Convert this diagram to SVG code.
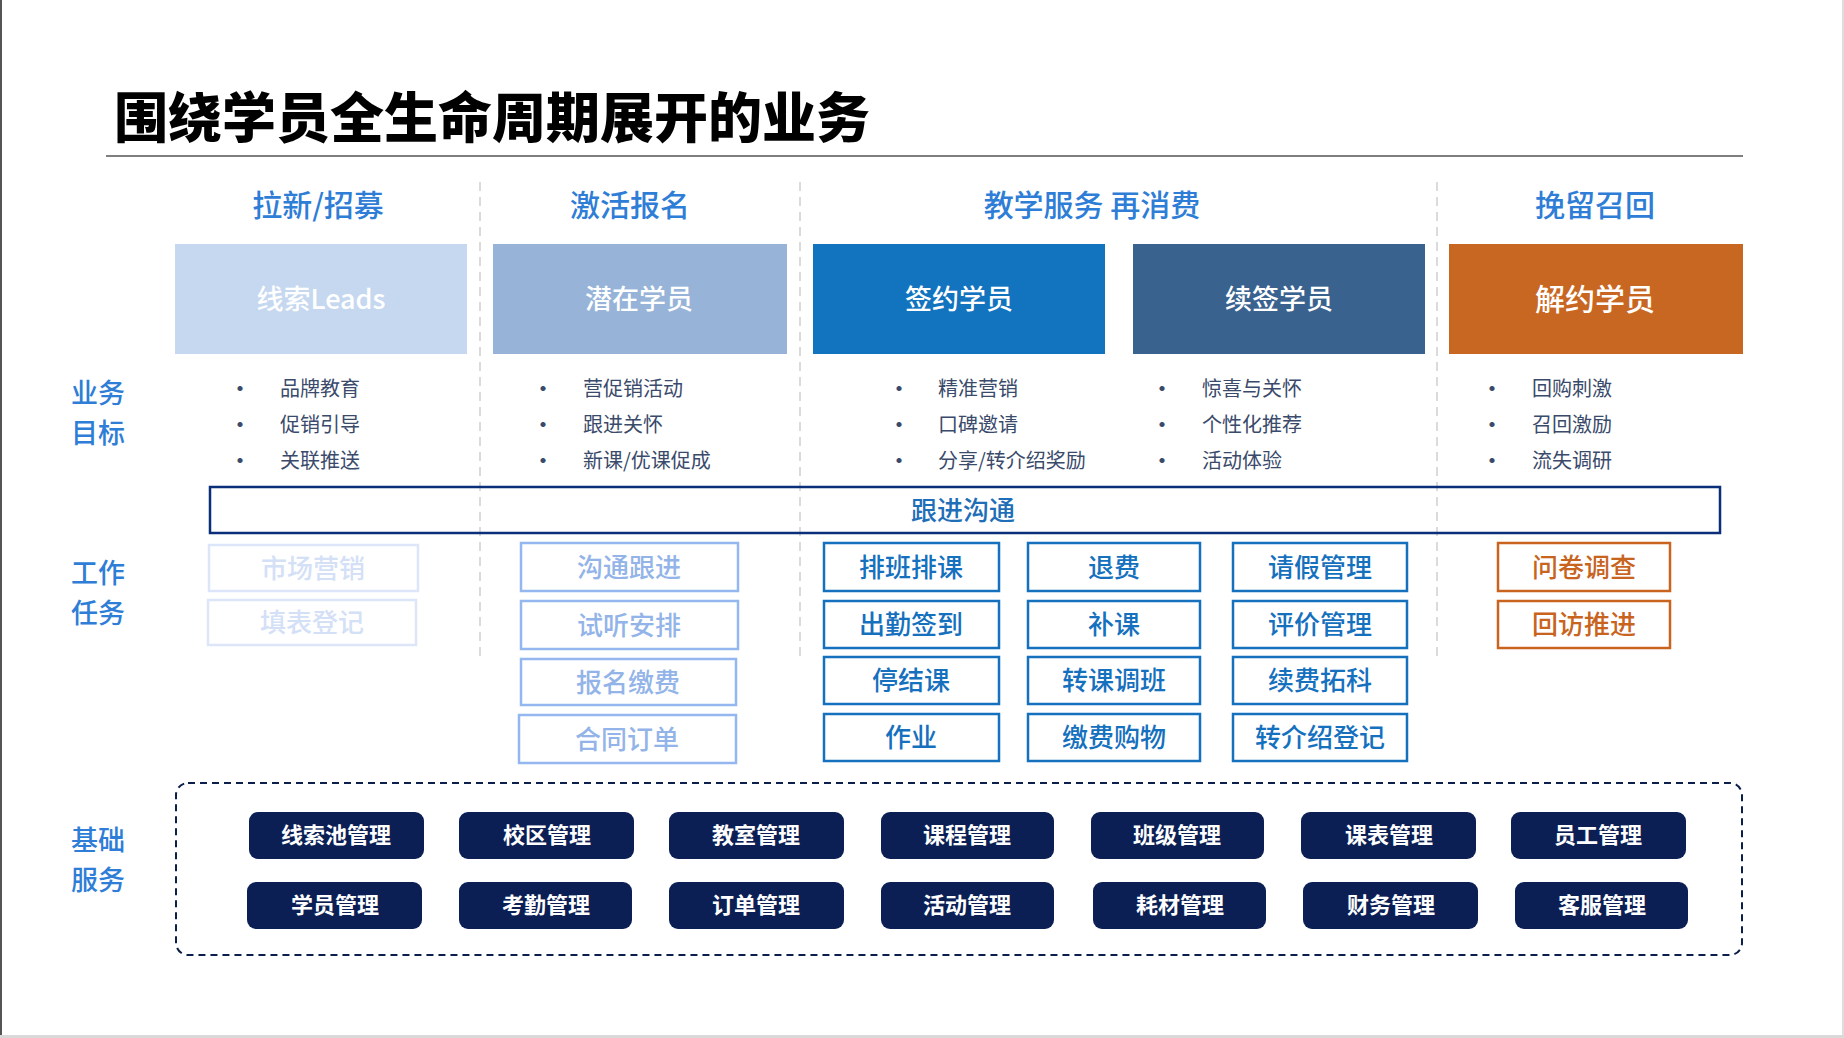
<svg xmlns="http://www.w3.org/2000/svg" width="1844" height="1038" viewBox="0 0 1844 1038">
<style>
text{font-family:"Noto Sans CJK SC","Noto Sans",sans-serif;dominant-baseline:central}
.title{font-size:54px;font-weight:900;fill:#000}
.hdr{font-size:30px;font-weight:500;fill:#2E7DD6;text-anchor:middle}
.side{font-size:27px;font-weight:500;fill:#2E7DD6;text-anchor:middle}
.stage{font-size:27px;font-weight:500;fill:#fff;text-anchor:middle}
.bul{font-size:20px;fill:#3A4A6B}
.dot{font-size:20px;font-weight:700;fill:#3A4A6B;text-anchor:middle}
.task{font-size:26px;font-weight:500;text-anchor:middle}
.tb{fill:#fff;stroke-width:2.5}
.t1{stroke:#DCE6F8}.t1t{fill:#D3E0F6}
.t2{stroke:#93B7EE}.t2t{fill:#93B4E8}
.t3{stroke:#1570BE}.t3t{fill:#1570BE}
.t4{stroke:#C8641E}.t4t{fill:#C8641E}
.base rect{fill:#0B1F55;rx:9px}
.base text{font-size:22px;font-weight:700;fill:#fff;text-anchor:middle}
.sep{stroke:#D0D0D0;stroke-width:1.5;stroke-dasharray:9 6;fill:none}
</style>
<rect x="0" y="0" width="1844" height="1038" fill="#fff"/>
<rect x="0" y="0" width="2" height="1038" fill="#555"/>
<rect x="1842" y="0" width="2" height="1038" fill="#DDD"/>
<rect x="0" y="1035" width="1844" height="3" fill="#D9D9D9"/>

<text class="title" x="114" y="114">围绕学员全生命周期展开的业务</text>
<line x1="106" y1="156" x2="1743" y2="156" stroke="#7F7F7F" stroke-width="2"/>

<g id="separators">
<line class="sep" x1="480" y1="182" x2="480" y2="656"/>
<line class="sep" x1="800" y1="182" x2="800" y2="656"/>
<line class="sep" x1="1437" y1="182" x2="1437" y2="656"/>
</g>

<g id="headers">
<text class="hdr" x="318" y="203">拉新/招募</text>
<text class="hdr" x="630" y="203">激活报名</text>
<text class="hdr" x="1092" y="203">教学服务 再消费</text>
<text class="hdr" x="1595" y="203">挽留召回</text>
</g>

<g id="side-labels">
<text class="side" x="98" y="391">业务</text>
<text class="side" x="98" y="431">目标</text>
<text class="side" x="98" y="571">工作</text>
<text class="side" x="98" y="611">任务</text>
<text class="side" x="98" y="838">基础</text>
<text class="side" x="98" y="878">服务</text>
</g>

<g id="stage-leads"><rect x="175" y="244" width="292" height="110" fill="#C5D8EF"/><text class="stage" x="321" y="297">线索Leads</text></g>
<g id="stage-potential"><rect x="493" y="244" width="294" height="110" fill="#97B4D8"/><text class="stage" x="639" y="297">潜在学员</text></g>
<g id="stage-signed"><rect x="813" y="244" width="292" height="110" fill="#1273BF"/><text class="stage" x="959" y="297">签约学员</text></g>
<g id="stage-renewed"><rect x="1133" y="244" width="292" height="110" fill="#3A628F"/><text class="stage" x="1279" y="297">续签学员</text></g>
<g id="stage-cancelled"><rect x="1449" y="244" width="294" height="110" fill="#C86721"/><text class="stage" x="1595" y="297" style="font-size:30px">解约学员</text></g>

<g id="goals">
<text class="dot" x="240" y="387">•</text><text class="bul" x="280" y="387">品牌教育</text>
<text class="dot" x="240" y="423">•</text><text class="bul" x="280" y="423">促销引导</text>
<text class="dot" x="240" y="459">•</text><text class="bul" x="280" y="459">关联推送</text>
<text class="dot" x="543" y="387">•</text><text class="bul" x="583" y="387">营促销活动</text>
<text class="dot" x="543" y="423">•</text><text class="bul" x="583" y="423">跟进关怀</text>
<text class="dot" x="543" y="459">•</text><text class="bul" x="583" y="459">新课/优课促成</text>
<text class="dot" x="899" y="387">•</text><text class="bul" x="938" y="387">精准营销</text>
<text class="dot" x="899" y="423">•</text><text class="bul" x="938" y="423">口碑邀请</text>
<text class="dot" x="899" y="459">•</text><text class="bul" x="938" y="459">分享/转介绍奖励</text>
<text class="dot" x="1162" y="387">•</text><text class="bul" x="1202" y="387">惊喜与关怀</text>
<text class="dot" x="1162" y="423">•</text><text class="bul" x="1202" y="423">个性化推荐</text>
<text class="dot" x="1162" y="459">•</text><text class="bul" x="1202" y="459">活动体验</text>
<text class="dot" x="1492" y="387">•</text><text class="bul" x="1532" y="387">回购刺激</text>
<text class="dot" x="1492" y="423">•</text><text class="bul" x="1532" y="423">召回激励</text>
<text class="dot" x="1492" y="459">•</text><text class="bul" x="1532" y="459">流失调研</text>
</g>

<g id="follow-up">
<rect x="210" y="487" width="1510" height="46" fill="none" stroke="#0B2E7A" stroke-width="2.5"/>
<text class="task" x="963" y="508" style="fill:#1F6FB8">跟进沟通</text>
</g>

<g id="tasks-leads">
<g id="task-market"><rect class="tb t1" x="209" y="545" width="209" height="46"/><text class="task t1t" x="313" y="566">市场营销</text></g>
<g id="task-form"><rect class="tb t1" x="208" y="600" width="208" height="45"/><text class="task t1t" x="312" y="620">填表登记</text></g>
</g>
<g id="tasks-potential">
<g id="task-comm"><rect class="tb t2" x="521" y="543" width="217" height="48"/><text class="task t2t" x="629" y="565">沟通跟进</text></g>
<g id="task-trial"><rect class="tb t2" x="521" y="601" width="217" height="48"/><text class="task t2t" x="629" y="623">试听安排</text></g>
<g id="task-pay"><rect class="tb t2" x="521" y="659" width="215" height="46"/><text class="task t2t" x="628" y="680">报名缴费</text></g>
<g id="task-contract"><rect class="tb t2" x="519" y="715" width="217" height="48"/><text class="task t2t" x="627" y="737">合同订单</text></g>
</g>
<g id="tasks-service">
<g id="task-schedule"><rect class="tb t3" x="824" y="543" width="175" height="48"/><text class="task t3t" x="911" y="565">排班排课</text></g>
<g id="task-refund"><rect class="tb t3" x="1028" y="543" width="172" height="48"/><text class="task t3t" x="1114" y="565">退费</text></g>
<g id="task-leave"><rect class="tb t3" x="1233" y="543" width="174" height="48"/><text class="task t3t" x="1320" y="565">请假管理</text></g>
<g id="task-attend"><rect class="tb t3" x="824" y="601" width="175" height="47"/><text class="task t3t" x="911" y="622">出勤签到</text></g>
<g id="task-makeup"><rect class="tb t3" x="1028" y="601" width="172" height="47"/><text class="task t3t" x="1114" y="622">补课</text></g>
<g id="task-eval"><rect class="tb t3" x="1233" y="601" width="174" height="47"/><text class="task t3t" x="1320" y="622">评价管理</text></g>
<g id="task-pause"><rect class="tb t3" x="824" y="657" width="175" height="47"/><text class="task t3t" x="911" y="678">停结课</text></g>
<g id="task-transfer"><rect class="tb t3" x="1028" y="657" width="172" height="47"/><text class="task t3t" x="1114" y="678">转课调班</text></g>
<g id="task-renew"><rect class="tb t3" x="1233" y="657" width="174" height="47"/><text class="task t3t" x="1320" y="678">续费拓科</text></g>
<g id="task-homework"><rect class="tb t3" x="824" y="714" width="175" height="47"/><text class="task t3t" x="911" y="735">作业</text></g>
<g id="task-shop"><rect class="tb t3" x="1028" y="714" width="172" height="47"/><text class="task t3t" x="1114" y="735">缴费购物</text></g>
<g id="task-referral"><rect class="tb t3" x="1233" y="714" width="174" height="47"/><text class="task t3t" x="1320" y="735">转介绍登记</text></g>
</g>
<g id="tasks-retain">
<g id="task-survey"><rect class="tb t4" x="1498" y="543" width="172" height="48"/><text class="task t4t" x="1584" y="565">问卷调查</text></g>
<g id="task-visit"><rect class="tb t4" x="1498" y="601" width="172" height="47"/><text class="task t4t" x="1584" y="622">回访推进</text></g>
</g>

<g id="foundation">
<rect x="176" y="783" width="1566" height="172" rx="12" fill="none" stroke="#0B1F4A" stroke-width="2" stroke-dasharray="7 5"/>
<g class="base">
<g id="b-leadpool"><rect x="249" y="812" width="175" height="47"/><text x="336" y="833">线索池管理</text></g>
<g id="b-campus"><rect x="459" y="812" width="175" height="47"/><text x="547" y="833">校区管理</text></g>
<g id="b-room"><rect x="669" y="812" width="175" height="47"/><text x="756" y="833">教室管理</text></g>
<g id="b-course"><rect x="881" y="812" width="173" height="47"/><text x="967" y="833">课程管理</text></g>
<g id="b-class"><rect x="1091" y="812" width="173" height="47"/><text x="1177" y="833">班级管理</text></g>
<g id="b-timetable"><rect x="1301" y="812" width="175" height="47"/><text x="1389" y="833">课表管理</text></g>
<g id="b-staff"><rect x="1511" y="812" width="175" height="47"/><text x="1598" y="833">员工管理</text></g>
<g id="b-student"><rect x="247" y="882" width="175" height="47"/><text x="335" y="903">学员管理</text></g>
<g id="b-attendance"><rect x="459" y="882" width="173" height="47"/><text x="546" y="903">考勤管理</text></g>
<g id="b-order"><rect x="669" y="882" width="175" height="47"/><text x="756" y="903">订单管理</text></g>
<g id="b-activity"><rect x="881" y="882" width="173" height="47"/><text x="967" y="903">活动管理</text></g>
<g id="b-material"><rect x="1093" y="882" width="173" height="47"/><text x="1180" y="903">耗材管理</text></g>
<g id="b-finance"><rect x="1303" y="882" width="175" height="47"/><text x="1391" y="903">财务管理</text></g>
<g id="b-service"><rect x="1515" y="882" width="173" height="47"/><text x="1602" y="903">客服管理</text></g>
</g>
</g>
</svg>
